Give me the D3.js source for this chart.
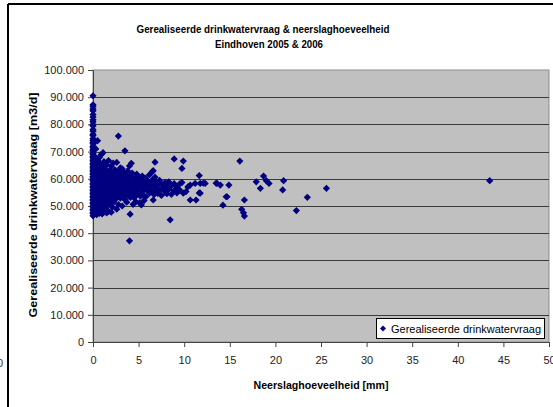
<!DOCTYPE html>
<html><head><meta charset="utf-8">
<script src="https://cdn.jsdelivr.net/npm/d3@7"></script>
<style>body{margin:0;background:#fff}svg{display:block}text{font-family:"Liberation Sans",Arial,sans-serif}</style>
</head><body>
<script>
const titleLines = ["Gerealiseerde drinkwatervraag & neerslaghoeveelheid", "Eindhoven 2005 & 2006"];
const xTitle = "Neerslaghoeveelheid [mm]";
const yTitle = "Gerealiseerde drinkwatervraag [m3/d]";
const seriesName = "Gerealiseerde drinkwatervraag";
const xTicks = [0,5,10,15,20,25,30,35,40,45,50];
const yTicks = [0,10000,20000,30000,40000,50000,60000,70000,80000,90000,100000];

// dry days (0 mm)
const dryDemand = [90500,87200,86600,85700,85000,83600,82700,81700,81000,80000,79400,78100,77500,76400,75900,74800,74200,73400,72900,72000,71500,70700,70300,69400,69000,68200,67700,66900,66500,65700,65200,64400,64000,63200,62800,62000,61600,60800,60400,59600,59200,58400,58000,57200,56800,56000,55600,54800,54400,53600,53200,52400,52000,51200,50800,50000,49600,48800,48400,47600,47200,46400];
const rainX = [0.1,0.1,0.2,0.2,0.2,0.2,0.2,0.2,0.2,0.2,0.3,0.3,0.3,0.3,0.3,0.3,0.3,0.3,0.4,0.4,0.4,0.4,0.4,0.4,0.4,0.5,0.5,0.5,0.5,0.5,0.5,0.5,0.6,0.6,0.6,0.6,0.6,
0.7,0.7,0.7,0.7,0.7,0.7,0.8,0.8,0.8,0.8,0.8,0.9,0.9,0.9,0.9,0.9,0.9,1.0,1.0,1.0,1.0,1.0,1.0,1.1,1.1,1.1,1.1,1.1,1.2,1.2,1.2,1.2,1.2,1.2,1.3,1.3,1.3,1.3,1.4,1.4,1.4,1.4,1.5,1.5,1.5,1.5,1.5,
1.6,1.6,1.6,1.6,1.7,1.7,1.7,1.7,1.8,1.8,1.8,1.8,1.9,1.9,1.9,2.0,2.0,2.0,2.0,2.0,2.1,2.1,2.1,2.2,2.2,2.2,2.2,2.3,2.3,2.3,2.4,2.4,2.4,2.4,2.5,2.5,2.5,2.6,2.6,2.6,2.6,2.7,2.7,2.7,2.78,2.8,2.8,2.8,2.8,2.9,2.9,2.9,3.0,3.0,3.0,3.0,
3.1,3.1,3.1,3.2,3.2,3.2,3.2,3.3,3.3,3.3,3.4,3.4,3.4,3.5,3.5,3.5,3.5,3.6,3.6,3.6,3.7,3.7,3.7,3.8,3.8,3.8,3.9,3.9,3.9,4.0,4.0,4.0,4.0,4.07,4.1,4.1,4.1,4.2,4.2,4.2,4.3,4.3,4.3,4.4,4.5,4.5,4.5,4.6,4.6,4.7,4.8,4.8,4.8,4.9,4.9,5.0,5.0,5.0,5.1,
5.2,5.2,5.2,5.3,5.4,5.4,5.4,5.5,5.5,5.6,5.7,5.7,5.8,5.8,5.8,6.0,6.0,6.2,6.2,6.2,6.3,6.3,6.5,6.5,6.5,6.6,6.6,6.7,6.7,6.8,6.8,6.9,6.9,
7.1,7.1,7.3,7.3,7.5,7.5,7.7,7.9,7.9,8.1,8.1,8.3,8.3,8.46,8.6,8.6,8.9,8.9,8.9,9.2,9.2,9.5,9.5,9.75,9.75,9.9,9.9,
10.2,10.4,10.66,10.66,11.2,11.3,11.65,11.65,11.76,11.76,12.1,12.3,13.5,13.6,13.96,14.25,14.6,14.7,14.9,16.1,16.3,16.5,16.6,16.6,17.9,18.35,18.7,19.0,19.3,20.8,20.9,22.3,23.5,25.6,43.5];
const rainDemand = [73200,68400,66100,63800,61200,58700,55900,52400,49800,47600,71000,65200,62600,60100,57500,54800,51600,48700,67500,64300,59400,56600,53300,50200,46800,74000,66800,61900,58100,55200,51000,48200,63500,60600,57000,54100,49400,
67800,62200,58900,55700,52700,47300,65600,60800,57800,53900,50600,68900,63100,59600,56200,52000,48400,64700,61500,58300,55000,51300,47100,69600,62900,57300,53600,49200,66300,60200,56800,54500,50800,47800,63600,59100,55400,52300,61300,57600,53000,48900,65100,59900,56300,51800,47500,
62400,58000,54200,50300,66700,60700,56000,48000,63000,58600,53200,50900,61000,57100,55000,64600,59300,55800,52100,47700,62000,57900,49600,65800,60400,56500,53500,58800,55300,51500,63300,59800,57000,54000,61600,56100,52600,66000,58400,55600,48800,60000,57400,53800,75700,62700,58700,55100,50500,60900,56900,54400,64000,59400,57200,52900,
61800,58100,55500,63700,59000,54700,50000,60500,57700,53100,62300,58500,55900,70300,60100,56600,52400,61200,57500,54300,59600,56400,51400,62900,58200,55200,60400,57000,53700,64700,59200,55700,37200,47000,61400,57900,53200,65700,59700,56200,62100,58400,54600,50600,60200,57300,53000,59000,55800,51500,61700,57800,54100,59500,56500,60800,58000,54800,51200,
59300,56800,53600,50400,61000,57600,55300,59800,54000,52000,58700,56100,60300,57200,53400,59100,55600,61500,57900,54700,58300,56300,62600,59600,55000,52200,63000,57400,54200,66100,60600,58800,56000,
57700,54600,59400,55800,58000,53900,56700,58600,55300,57100,54500,58900,56100,44900,57500,54300,67300,58200,55700,57000,54800,58100,55900,63800,58600,66500,54700,
55300,57000,57700,52200,58300,52200,61200,54800,58300,54700,58400,58300,58400,58300,57700,50300,53400,53400,57700,66500,48800,47500,46300,52200,58900,56500,61000,59300,58300,55900,59300,48300,53200,56500,59300];

const W = 553, H = 407;
const svg = d3.select("body").append("svg").attr("width", W).attr("height", H);

// outer frame lines
svg.append("line").attr("x1",8).attr("x2",553).attr("y1",4).attr("y2",4).attr("stroke","#000").attr("stroke-width",2);
svg.append("line").attr("x1",8).attr("x2",8).attr("y1",4).attr("y2",407).attr("stroke","#000").attr("stroke-width",2);
svg.append("text").attr("x",3).attr("y",367).attr("text-anchor","end").attr("font-size",11).attr("fill","#333").text("0");

const L = 93, R = 549, T = 70, B = 342;
const x = d3.scaleLinear().domain([0,50]).range([L,R]);
const y = d3.scaleLinear().domain([0,100000]).range([B,T]);

svg.append("rect").attr("x",L).attr("y",T).attr("width",R-L).attr("height",B-T).attr("fill","#c0c0c0").attr("stroke","#8c8c8c").attr("stroke-width",1);

// gridlines
svg.append("g").selectAll("line").data(yTicks.filter(d=>d>0 && d<100000)).join("line")
  .attr("x1",L).attr("x2",R).attr("y1",d=>Math.round(y(d))+0.5).attr("y2",d=>Math.round(y(d))+0.5)
  .attr("stroke","#3a3a3a").attr("stroke-width",1.2);

const fmt = d => d3.format(",")(d).replace(/,/g,".");
const yAxis = d3.axisLeft(y).tickValues(yTicks).tickFormat(fmt).tickSize(5).tickPadding(4);
const xAxis = d3.axisBottom(x).tickValues(xTicks).tickFormat(d3.format("d")).tickSize(5).tickPadding(9);
const gy = svg.append("g").attr("transform",`translate(${L},0)`).call(yAxis);
const gx = svg.append("g").attr("transform",`translate(0,${B})`).call(xAxis);
[gy,gx].forEach(g=>{
  g.select(".domain").attr("stroke","#444").attr("stroke-width",1);
  g.selectAll(".tick line").attr("stroke","#444");
  g.selectAll(".tick text").attr("font-size",11).attr("fill","#222").attr("font-family","'Liberation Sans',Arial,sans-serif");
});

// diamond symbol (equal diagonals, like Excel)
const sqDiamond = {draw(ctx,size){const r=Math.sqrt(size/2);ctx.moveTo(0,-r);ctx.lineTo(r,0);ctx.lineTo(0,r);ctx.lineTo(-r,0);ctx.closePath();}};
const sym = d3.symbol().type(sqDiamond).size(26);

const pts = dryDemand.map(v=>[0,v]).concat(rainX.map((r,i)=>[r,rainDemand[i]]));
svg.append("g").selectAll("path").data(pts).join("path")
  .attr("transform",d=>`translate(${x(d[0])},${y(d[1])})`).attr("d",sym).attr("fill","#000080");

// titles
svg.append("text").attr("x",263).attr("y",33).attr("text-anchor","middle").attr("font-size",11).attr("font-weight","bold")
  .attr("textLength",253).attr("lengthAdjust","spacingAndGlyphs").text(titleLines[0]);
svg.append("text").attr("x",269).attr("y",48).attr("text-anchor","middle").attr("font-size",11).attr("font-weight","bold")
  .attr("textLength",108).attr("lengthAdjust","spacingAndGlyphs").text(titleLines[1]);
svg.append("text").attr("x",(L+R)/2).attr("y",389).attr("text-anchor","middle").attr("font-size",11).attr("font-weight","bold")
  .attr("textLength",135).attr("lengthAdjust","spacingAndGlyphs").text(xTitle);
svg.append("text").attr("transform",`translate(37,205) rotate(-90)`).attr("text-anchor","middle").attr("font-size",11).attr("font-weight","bold")
  .attr("textLength",225).attr("lengthAdjust","spacingAndGlyphs").text(yTitle);

// legend
const lg = svg.append("g");
lg.append("rect").attr("x",376.5).attr("y",318.5).attr("width",168).attr("height",20).attr("fill","#fff").attr("stroke","#000");
lg.append("path").attr("transform","translate(383,328.5)").attr("d",d3.symbol().type(sqDiamond).size(18)).attr("fill","#000080");
lg.append("text").attr("x",391).attr("y",332.5).attr("font-size",11).attr("textLength",150).attr("lengthAdjust","spacingAndGlyphs").text(seriesName);
</script>
</body></html>
